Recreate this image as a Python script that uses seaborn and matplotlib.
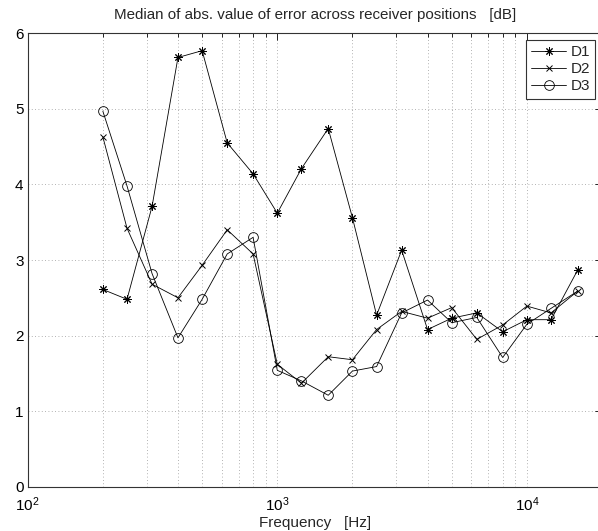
import numpy as np
import pandas as pd
import matplotlib
matplotlib.use("Agg")
import matplotlib.pyplot as plt
import seaborn as sns
from matplotlib.ticker import LogLocator, NullFormatter

freqs = [200, 250, 315, 400, 500, 630, 800, 1000, 1250, 1600, 2000, 2500,
         3150, 4000, 5000, 6300, 8000, 10000, 12500, 16000]
d1 = [2.61, 2.48, 3.71, 5.68, 5.77, 4.55, 4.14, 3.62, 4.21, 4.74, 3.56, 2.27,
      3.13, 2.08, 2.23, 2.30, 2.05, 2.21, 2.21, 2.87]
d2 = [4.63, 3.42, 2.68, 2.50, 2.93, 3.40, 3.08, 1.62, 1.37, 1.72, 1.68, 2.08,
      2.32, 2.23, 2.37, 1.95, 2.14, 2.39, 2.30, 2.59]
d3 = [4.97, 3.98, 2.82, 1.97, 2.48, 3.08, 3.30, 1.54, 1.40, 1.21, 1.53, 1.59,
      2.30, 2.47, 2.17, 2.24, 1.71, 2.15, 2.36, 2.59]
labels = ["D1", "D2", "D3"]
title = "Median of abs. value of error across receiver positions   [dB]"
xlabel = "Frequency   [Hz]"

sns.set_style("white")
plt.rcParams['font.family'] = ['Liberation Sans', 'DejaVu Sans']
plt.rcParams['mathtext.fontset'] = 'custom'
plt.rcParams['mathtext.rm'] = 'Liberation Sans'
plt.rcParams['mathtext.it'] = 'Liberation Sans'
plt.rcParams['mathtext.default'] = 'regular'

fig = plt.figure(figsize=(5.98, 5.31), dpi=100)
ax = fig.add_axes([27.7 / 598, 1 - 486.7 / 531, (602 - 27.7) / 598, (486.7 - 33.3) / 531])

styles = [dict(marker=(8, 2, 0), ms=6, mfc='black', mec='black', mew=0.7),
          dict(marker='x', ms=4.5, mfc='black', mec='black', mew=0.7),
          dict(marker='o', ms=7, mfc='none', mec='black', mew=0.6)]
for vals, lab, st in zip([d1, d2, d3], labels, styles):
    df = pd.DataFrame({"f": freqs, "v": vals})
    sns.lineplot(data=df, x="f", y="v", ax=ax, color='black', lw=0.6,
                 label=lab, **st)

ax.set_xscale('log')
ax.set_xlim(100, 20000)
ax.set_ylim(0, 6)
ax.set_yticks([0, 1, 2, 3, 4, 5, 6])
ax.xaxis.set_major_locator(LogLocator(base=10, numticks=10))
ax.xaxis.set_minor_locator(LogLocator(base=10, subs=np.arange(2, 10), numticks=20))
ax.xaxis.set_minor_formatter(NullFormatter())

ax.grid(True, which='major', axis='both', linestyle=(0, (1, 3)), color='#999999', lw=0.6)
ax.grid(True, which='minor', axis='x', linestyle=(0, (1, 3)), color='#999999', lw=0.6)

ax.tick_params(axis='both', which='both', direction='in', top=True, right=True,
               labelsize=11, colors='black')
ax.tick_params(axis='y', which='major', pad=3)
ax.tick_params(axis='x', which='major', pad=6)
ax.tick_params(axis='both', which='major', length=5, width=0.6)
ax.tick_params(axis='x', which='minor', length=3, width=0.6)
for s in ax.spines.values():
    s.set_color('#333333')
    s.set_linewidth(0.8)
ax.spines['right'].set_visible(False)

ax.set_xlabel(xlabel, fontsize=11, labelpad=2)
ax.set_ylabel("")
ax.set_title(title, fontsize=10.9, pad=10)

leg = ax.legend(loc='upper left', bbox_to_anchor=(526 / 598, 1 - 40 / 531),
                bbox_transform=fig.transFigure, fontsize=11, frameon=True,
                fancybox=False, framealpha=1, edgecolor='#333333',
                borderpad=0.35, labelspacing=0.2, handlelength=2.3,
                handletextpad=0.25, borderaxespad=0)
leg.get_frame().set_linewidth(0.8)

fig.savefig("out.png", dpi=100)
